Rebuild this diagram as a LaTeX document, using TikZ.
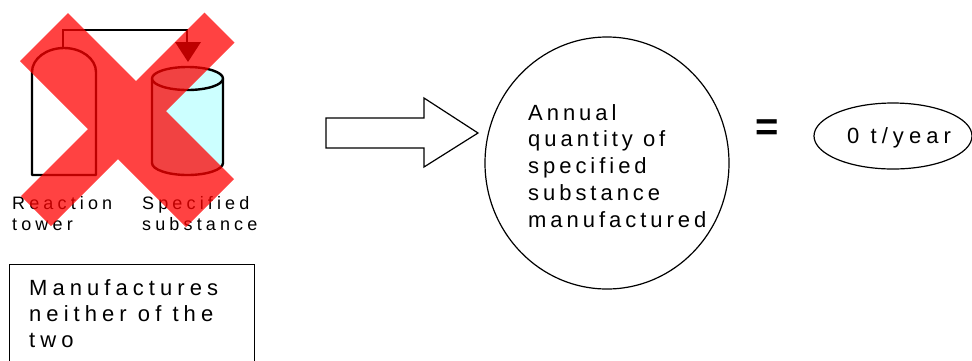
\documentclass[tikz,border=0pt]{standalone}
\usepackage{fontspec}
\setmainfont{Liberation Sans}
\newfontfamily\widefont[LetterSpace=23]{Liberation Sans}
\newfontfamily\midfont[LetterSpace=18]{Liberation Sans}
\usetikzlibrary{shapes.geometric}

\definecolor{tankcyan}{HTML}{CCFFFF}

\begin{document}
\begin{tikzpicture}[x=1pt,y=-1pt,
  vessel/.style={line width=2.4pt, line join=round},
  pipe/.style={line width=1.8pt},
  thinline/.style={line width=1.2pt},
  % multi-line labels are anchored at the baseline of their last line
  smalllbl/.style={anchor=base west, inner sep=0pt, align=left,
    font=\widefont\fontsize{18}{21}\selectfont},
  biglbl/.style={anchor=base west, inner sep=0pt, align=left,
    font=\widefont\fontsize{22}{26.4}\selectfont},
  circlbl/.style={anchor=base west, inner sep=0pt, align=left,
    font=\midfont\fontsize{22}{26.75}\selectfont},
  crossband/.style={fill=red}
]
\useasboundingbox (0,0) rectangle (972,360);

% reaction tower with domed top
\draw[vessel, fill=white] (32,175) -- (32,72)
  arc[start angle=180, end angle=0, x radius=32pt, y radius=24pt]
  -- (96,175) -- cycle;
\coordinate (towertop) at (63,48);

% feed pipe from the tower to the storage tank
\coordinate (pipeend) at (187,43);
\draw[pipe] (towertop) -- (63,30) -- (187,30) -- (pipeend);
\fill (175,42) -- (201,42) -- (188,62) -- cycle;

% storage tank (cylinder)
\fill[tankcyan] (152,78.5) -- (152,163)
  arc[start angle=180, end angle=360, x radius=35.5pt, y radius=12pt]
  -- (223,78.5)
  arc[start angle=0, end angle=180, x radius=35.5pt, y radius=11.5pt] -- cycle;
\draw[vessel] (152,78.5) -- (152,163)
  arc[start angle=180, end angle=360, x radius=35.5pt, y radius=12pt]
  -- (223,78.5);
\draw[vessel] (187.5,78.5) ellipse[x radius=35.5pt, y radius=11.5pt];

% captions under the two vessels
\node[smalllbl] (towerlbl) at (12,230) {Reaction\\tower};
\node[smalllbl] (tanklbl) at (142,230) {Specified\\substance};

% red cross over both vessels
\begin{scope}[transparency group, opacity=0.74]
  \fill[crossband] (20,61) -- (68,13) -- (234,179) -- (186,227) -- cycle;
  \fill[crossband] (204.5,12.5) -- (234.5,42.5) -- (51,226) -- (21,196) -- cycle;
\end{scope}

% note box, running off the lower edge
\node[draw, thinline, anchor=north west, minimum width=245pt,
  minimum height=110pt, inner sep=0pt] (notebox) at (9,264) {};
\node[biglbl] (notetext) at (29,347.8) {Manufactures\\neither of the\\two};

% block arrow pointing to the quantity
\draw[thinline, line join=miter] (326,118) -- (424,118) -- (424,98) -- (478,133)
  -- (424,167) -- (424,148) -- (326,148) -- cycle;

% annual quantity
\node[draw, thinline, ellipse, minimum width=244pt, minimum height=252pt,
  inner sep=0pt] (qty) at (607,163) {};
\node[circlbl] (qtytext) at (528,227)
  {Annual\\quantity of\\specified\\substance\\manufactured};

% equals sign and result
\node[anchor=base, inner sep=0pt, font=\bfseries\fontsize{40}{40}\selectfont]
  (eq) at (767,140) {=};
\node[draw, thinline, ellipse, minimum width=158pt, minimum height=66pt,
  inner sep=0pt] (result) at (893,136) {};
\node[biglbl] (resulttext) at (847,143) {0 t/year};
\end{tikzpicture}
\end{document}
